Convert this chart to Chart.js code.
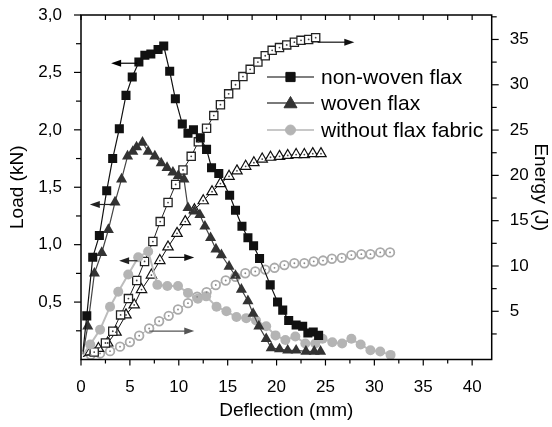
<!DOCTYPE html>
<html>
<head>
<meta charset="utf-8">
<script src="https://cdn.jsdelivr.net/npm/chart.js@4.4.0/dist/chart.umd.min.js"></script>
<style>
  html, body { margin: 0; padding: 0; background: #fff; }
  canvas { display: block; }
</style>
</head>
<body>
<canvas id="chart" width="552" height="427"></canvas>
<script>
// tick labels
const xTicks = [0, 5, 10, 15, 20, 25, 30, 35, 40];
const loadTicks = [0.5, 1.0, 1.5, 2.0, 2.5, 3.0];
const energyTicks = [5, 10, 15, 20, 25, 30, 35];
const seriesNames = ["non-woven flax", "woven flax", "without flax fabric"];

// non-woven flax
const nwLoadX = [0.2, 0.59, 1.2, 1.88, 2.63, 3.24, 3.92, 4.6, 5.24, 5.92, 6.53, 7.14, 7.88, 8.46, 9.07, 9.65, 10.36, 10.94, 11.5, 12.2, 12.84, 13.35, 14.09, 15.2, 15.8, 16.46, 17.07, 17.65, 18.26, 19.35, 20.1, 20.63, 21.24, 22.0, 22.67, 23.2, 23.75, 24.3];
const nwLoadY = [0.07, 0.38, 0.89, 1.08, 1.47, 1.75, 2.01, 2.30, 2.46, 2.59, 2.65, 2.66, 2.70, 2.73, 2.51, 2.27, 2.05, 1.97, 2.0, 1.93, 1.83, 1.67, 1.62, 1.43, 1.30, 1.16, 1.06, 0.99, 0.88, 0.65, 0.50, 0.43, 0.34, 0.30, 0.29, 0.23, 0.24, 0.21];
const nwEnergyX = [0.2, 1.35, 2.5, 3.25, 4.05, 4.85, 5.7, 6.5, 7.35, 8.1, 8.9, 9.68, 10.43, 11.27, 12.0, 12.84, 13.58, 14.26, 15.1, 15.8, 16.56, 17.3, 18.09, 18.84, 19.55, 20.3, 21.04, 21.82, 22.5, 23.28, 24.0];
const nwEnergyY = [0, 0.5, 1.5, 2.8, 4.6, 6.4, 8.4, 10.5, 12.7, 14.9, 17.0, 19.0, 20.6, 22.1, 23.7, 25.2, 26.6, 27.8, 29.0, 30.0, 30.9, 31.7, 32.5, 33.2, 33.8, 34.1, 34.4, 34.7, 34.9, 35.0, 35.2];

// woven flax
const wLoadX = [0.2, 0.69, 1.37, 2.12, 2.8, 3.48, 4.15, 4.76, 5.3, 5.68, 6.29, 6.87, 7.55, 8.2, 8.8, 9.4, 9.95, 10.53, 10.94, 11.6, 12.16, 12.67, 13.25, 13.8, 14.36, 15.14, 15.8, 16.4, 17.07, 17.6, 18.19, 18.94, 19.45, 20.3, 21.14, 22.0, 23.0, 23.85, 24.5];
const wLoadY = [0.05, 0.29, 0.75, 0.93, 1.13, 1.37, 1.57, 1.77, 1.81, 1.85, 1.89, 1.81, 1.77, 1.71, 1.67, 1.63, 1.60, 1.57, 1.32, 1.29, 1.26, 1.16, 1.06, 0.96, 0.91, 0.81, 0.73, 0.61, 0.51, 0.40, 0.29, 0.18, 0.10, 0.09, 0.08, 0.08, 0.07, 0.07, 0.07];
const wEnergyX = [0.2, 0.94, 1.78, 2.73, 3.58, 4.6, 5.44, 6.19, 7.2, 8.06, 8.9, 9.82, 10.66, 11.6, 12.5, 13.4, 14.26, 15.14, 15.95, 16.84, 17.68, 18.53, 19.38, 20.3, 21.14, 22.0, 22.84, 23.7, 24.54];
const wEnergyY = [0, 0.5, 0.9, 1.5, 2.7, 4.6, 5.7, 7.4, 9.0, 10.6, 12.1, 13.6, 14.9, 16.2, 17.2, 18.2, 19.1, 19.9, 20.5, 21.0, 21.4, 21.8, 22.0, 22.1, 22.2, 22.3, 22.3, 22.4, 22.4];

// without flax fabric
const woLoadX = [0.2, 0.94, 1.95, 2.97, 3.81, 4.83, 5.85, 6.87, 7.81, 8.83, 9.92, 10.94, 11.95, 12.8, 13.86, 14.87, 15.9, 16.9, 17.9, 18.94, 19.89, 20.9, 21.92, 22.94, 23.96, 24.7, 25.7, 26.7, 27.65, 28.6, 29.6, 30.6, 31.66];
const woLoadY = [0.04, 0.13, 0.26, 0.46, 0.59, 0.74, 0.89, 0.94, 0.65, 0.64, 0.64, 0.58, 0.53, 0.55, 0.46, 0.42, 0.37, 0.36, 0.34, 0.29, 0.21, 0.17, 0.20, 0.14, 0.14, 0.18, 0.15, 0.14, 0.18, 0.13, 0.08, 0.07, 0.04];
const woEnergyX = [0.2, 1.0, 1.95, 2.97, 3.99, 5.0, 5.95, 6.97, 7.99, 8.97, 9.92, 10.94, 11.88, 12.84, 13.78, 14.8, 15.79, 16.8, 17.82, 18.84, 19.79, 20.8, 21.82, 22.84, 23.8, 24.75, 25.66, 26.67, 27.65, 28.67, 29.6, 30.6, 31.6];
const woEnergyY = [0, 0.2, 0.35, 0.6, 1.1, 1.6, 2.3, 3.1, 3.9, 4.5, 5.2, 5.9, 6.6, 7.1, 7.9, 8.4, 8.8, 9.2, 9.4, 9.6, 9.8, 10.1, 10.3, 10.3, 10.5, 10.6, 10.8, 10.9, 11.2, 11.3, 11.3, 11.5, 11.5];

// arrows pointing each curve to its axis (deflection from -> to, at value)
const arrowAxis = ["yLoad", "yLoad", "yLoad", "yEnergy", "yEnergy", "yEnergy"];
const arrowFrom = [5.74, 3.4, 5.77, 8.95, 24.2, 6.97];
const arrowTo = [3.08, 0.9, 3.9, 11.58, 27.95, 11.58];
const arrowAt = [2.58, 1.35, 0.86, 10.95, 34.7, 2.82];
const arrowColors = ["#000", "#222", "#222", "#111", "#111", "#555"];

const pts = (xs, ys) => xs.map((x, i) => ({ x: x, y: ys[i] }));
const hideFirst = ctx => (ctx.dataIndex === 0 ? 0 : undefined);

Chart.defaults.font.family = "'Liberation Sans', Arial, sans-serif";
Chart.defaults.color = "#000";

const frame = {
  id: "frame",
  afterDatasetsDraw(chart) {
    const { ctx, chartArea: a, scales } = chart;
    ctx.save();
    ctx.strokeStyle = "#000";
    const line = (x1, y1, x2, y2) => { ctx.beginPath(); ctx.moveTo(x1, y1); ctx.lineTo(x2, y2); ctx.stroke(); };
    ctx.lineWidth = 1.2;
    for (let v = 0; v <= 42; v += 2.5) {
      const px = scales.x.getPixelForValue(v);
      const major = v % 5 === 0;
      line(px, a.bottom, px, a.bottom + (major ? 6 : 4));
      line(px, a.top, px, a.top + 5);
    }
    for (let v = 0.25; v <= 3.0001; v += 0.25) {
      const py = scales.yLoad.getPixelForValue(v);
      const major = Math.abs(v * 2 - Math.round(v * 2)) < 1e-6;
      line(a.left - (major ? 7 : 5), py, a.left, py);
    }
    for (let v = 2.5; v <= 37.5; v += 2.5) {
      const py = scales.yEnergy.getPixelForValue(v);
      const major = v % 5 === 0;
      line(a.right, py, a.right + (major ? 7 : 5), py);
    }
    ctx.lineWidth = 1.5;
    ctx.strokeRect(a.left, a.top, a.right - a.left, a.bottom - a.top);

    // arrows
    ctx.lineWidth = 1.2;
    arrowAxis.forEach((ax, i) => {
      const x0 = scales.x.getPixelForValue(arrowFrom[i]);
      const x1 = scales.x.getPixelForValue(arrowTo[i]);
      const y = scales[ax].getPixelForValue(arrowAt[i]);
      const dir = x1 > x0 ? 1 : -1;
      ctx.strokeStyle = arrowColors[i];
      ctx.fillStyle = arrowColors[i];
      line(x0, y, x1 - dir * 6, y);
      ctx.beginPath();
      ctx.moveTo(x1, y);
      ctx.lineTo(x1 - dir * 10, y - 3.5);
      ctx.lineTo(x1 - dir * 10, y + 3.5);
      ctx.closePath();
      ctx.fill();
    });

    // legend
    const lx = a.left + 186, rows = [a.top + 62, a.top + 88, a.top + 115];
    const lineCol = ["#000", "#7a7a7a", "#c8c8c8"];
    const lineW = [1.2, 2, 2];
    const mk = [
      { pointStyle: "rect", radius: 6.5, fill: "#111" },
      { pointStyle: "triangle", radius: 7.5, fill: "#333" },
      { pointStyle: "circle", radius: 5, fill: "#b4b4b4" }
    ];
    ctx.font = "21px 'Liberation Sans', Arial, sans-serif";
    ctx.textBaseline = "middle";
    rows.forEach((ry, i) => {
      ctx.strokeStyle = lineCol[i];
      ctx.lineWidth = lineW[i];
      line(lx, ry, lx + 47, ry);
      ctx.fillStyle = mk[i].fill;
      ctx.strokeStyle = mk[i].fill;
      ctx.lineWidth = 1;
      Chart.helpers.drawPoint(ctx, { pointStyle: mk[i].pointStyle, radius: mk[i].radius, rotation: 0, borderWidth: 1 }, lx + 23.5, ry + (i === 1 ? 1 : 0));
      ctx.fillStyle = "#000";
      ctx.fillText(seriesNames[i], lx + 54, ry + 1);
    });
    ctx.restore();
  }
};

const dotSet = (xs, ys, col) => ({
  data: pts(xs, ys), yAxisID: "yEnergy", showLine: false,
  pointStyle: "circle", pointRadius: ctx => (ctx.dataIndex === 0 ? 0 : 0.9),
  backgroundColor: col, borderColor: col, borderWidth: 0
});

const noPad = s => { s.paddingTop = 0; s.paddingBottom = 0; s.paddingLeft = 0; s.paddingRight = 0; };

new Chart(document.getElementById("chart"), {
  type: "scatter",
  data: {
    datasets: [
      dotSet(nwEnergyX, nwEnergyY, "#444"),
      dotSet(wEnergyX, wEnergyY, "#444"),
      dotSet(woEnergyX, woEnergyY, "#888"),
      {
        data: pts(nwLoadX, nwLoadY), yAxisID: "yLoad", showLine: true,
        borderColor: "#111", borderWidth: 1.2, backgroundColor: "#111",
        pointStyle: "rect", pointRadius: ctx => hideFirst(ctx) ?? 6.4, pointBorderWidth: 0
      },
      {
        data: pts(wLoadX, wLoadY), yAxisID: "yLoad", showLine: true,
        borderColor: "#444", borderWidth: 1.2, backgroundColor: "#333",
        pointStyle: "triangle", pointRadius: ctx => hideFirst(ctx) ?? 6.4, pointBorderWidth: 0
      },
      {
        data: pts(woLoadX, woLoadY), yAxisID: "yLoad", showLine: true,
        borderColor: "#bdbdbd", borderWidth: 2, backgroundColor: "#b4b4b4",
        pointStyle: "circle", pointRadius: ctx => hideFirst(ctx) ?? 5, pointBorderWidth: 0
      },
      {
        data: pts(nwEnergyX, nwEnergyY), yAxisID: "yEnergy", showLine: true,
        borderColor: "#222", borderWidth: 1, backgroundColor: "#fff",
        pointStyle: "rect", pointRadius: ctx => hideFirst(ctx) ?? 5.8, pointBorderWidth: 1.3
      },
      {
        data: pts(wEnergyX, wEnergyY), yAxisID: "yEnergy", showLine: true,
        borderColor: "#111", borderWidth: 1, backgroundColor: "#fff",
        pointStyle: "triangle", pointRadius: ctx => hideFirst(ctx) ?? 6, pointBorderWidth: 1.2
      },
      {
        data: pts(woEnergyX, woEnergyY), yAxisID: "yEnergy", showLine: true,
        borderColor: "#aaa", borderWidth: 1, backgroundColor: "#fff",
        pointStyle: "circle", pointRadius: ctx => hideFirst(ctx) ?? 4.3, pointBorderWidth: 1.8
      }
    ]
  },
  options: {
    responsive: false,
    animation: false,
    layout: { padding: { top: 15, right: 0, bottom: 0, left: 0 } },
    plugins: { legend: { display: false }, tooltip: { enabled: false } },
    scales: {
      x: {
        type: "linear", position: "bottom", min: 0, max: 42,
        afterBuildTicks: s => { s.ticks = xTicks.map(v => ({ value: v })); },
        afterFit: s => { noPad(s); s.height = 427 - 359.5; },
        grid: { display: false }, border: { display: false },
        ticks: { font: { size: 17 }, padding: 10, maxRotation: 0 },
        title: { display: true, text: "Deflection (mm)", font: { size: 19 }, padding: { top: 0, bottom: 5 } }
      },
      yLoad: {
        type: "linear", position: "left", min: 0, max: 3.0,
        afterBuildTicks: s => { s.ticks = loadTicks.map(v => ({ value: v })); },
        afterFit: s => { noPad(s); s.width = 81; },
        grid: { display: false }, border: { display: false },
        ticks: { font: { size: 17 }, padding: 11, callback: v => v.toFixed(1).replace(".", ",") },
        title: { display: true, text: "Load (kN)", font: { size: 19 }, padding: { top: 6, bottom: 0 } }
      },
      yEnergy: {
        type: "linear", position: "right", min: -0.32, max: 37.7,
        afterBuildTicks: s => { s.ticks = energyTicks.map(v => ({ value: v })); },
        afterFit: s => { noPad(s); s.width = 552 - 491.7; },
        grid: { display: false }, border: { display: false },
        ticks: { font: { size: 17 }, padding: 10 },
        title: { display: true, text: "Energy (J)", font: { size: 19 }, padding: { top: 0, bottom: 0 } }
      }
    }
  },
  plugins: [frame]
});
</script>
</body>
</html>
